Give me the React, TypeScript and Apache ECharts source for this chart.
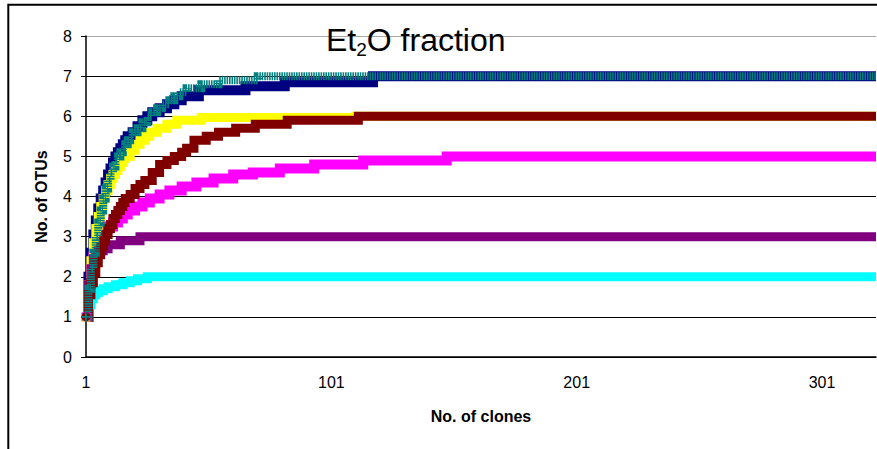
import React, { useEffect, useRef } from 'react';
import * as echarts from 'echarts';

const FONT = "'Liberation Sans', Arial, Helvetica, sans-serif";

// x categories: clone numbers
const clones: string[] = Array.from({ length: 323 }, (_, i) => String(i + 1));
const yTicks = [0, 1, 2, 3, 4, 5, 6, 7, 8];

// breakpoints [clone, No. of OTUs] (value holds until the next breakpoint)
const navy = [[1,1.0],[2,2.0],[3,2.6],[4,3.05],[5,3.4],[6,3.7],[7,3.95],[8,4.15],[9,4.35],[10,4.55],[11,4.7],[12,4.85],[13,5.0],[14,5.1],[15,5.2],[16,5.3],[17,5.4],[18,5.5],[20,5.6],[22,5.75],[24,5.9],[26,6.0],[28,6.1],[31,6.2],[34,6.3],[37,6.4],[40,6.5],[47,6.65],[66,6.75],[82,6.85],[118,7.0],[323,7.0]];
const magenta = [[1,1.0],[2,1.75],[3,2.2],[4,2.5],[5,2.7],[6,2.85],[7,3.0],[8,3.1],[9,3.2],[10,3.25],[12,3.35],[14,3.45],[16,3.55],[18,3.65],[21,3.75],[24,3.85],[27,3.95],[31,4.05],[35,4.15],[40,4.25],[46,4.35],[53,4.45],[61,4.55],[69,4.6],[80,4.7],[94,4.8],[114,4.9],[148,5.0],[323,5.0]];
const yellow = [[1,1.0],[2,1.8],[3,2.4],[4,2.85],[5,3.2],[6,3.5],[7,3.75],[8,3.95],[9,4.15],[10,4.3],[11,4.45],[12,4.55],[13,4.65],[14,4.75],[15,4.85],[16,4.95],[17,5.0],[19,5.15],[21,5.3],[23,5.4],[25,5.5],[27,5.6],[30,5.7],[34,5.8],[38,5.9],[48,5.97],[111,6.0],[323,6.0]];
const cyan = [[1,1.0],[2,1.3],[3,1.45],[4,1.55],[5,1.6],[6,1.65],[8,1.7],[10,1.75],[13,1.8],[16,1.85],[19,1.9],[22,1.95],[26,2.0],[323,2.0]];
const purple = [[1,1.0],[2,1.8],[3,2.2],[4,2.45],[5,2.55],[6,2.65],[8,2.7],[10,2.8],[15,2.9],[23,3.0],[323,3.0]];
const maroon = [[1,1.0],[2,1.55],[3,1.85],[4,2.1],[5,2.35],[6,2.55],[7,2.75],[8,2.9],[9,3.05],[10,3.2],[11,3.3],[12,3.45],[13,3.55],[14,3.65],[15,3.75],[16,3.85],[17,3.95],[19,4.05],[21,4.2],[23,4.3],[25,4.4],[28,4.6],[31,4.8],[34,4.9],[37,5.0],[40,5.1],[42,5.2],[45,5.4],[50,5.5],[55,5.6],[62,5.7],[70,5.8],[83,5.9],[112,6.0],[323,6.0]];
const teal = [[1,1.0],[2,1.7],[3,2.2],[4,2.6],[5,3.0],[6,3.35],[7,3.65],[8,3.95],[9,4.2],[10,4.4],[11,4.6],[12,4.75],[13,4.9],[14,5.0],[15,5.1],[16,5.2],[17,5.3],[18,5.4],[19,5.5],[20,5.6],[22,5.7],[24,5.85],[26,6.0],[28,6.1],[30,6.2],[32,6.3],[35,6.4],[37,6.5],[39,6.6],[42,6.7],[48,6.8],[55,6.9],[71,7.0],[323,7.0]];

const PLUS = 'path://M4,0H6V4H10V6H6V10H4V6H0V4H4Z';
const ASTER = 'path://M4,0H6V3.3L8.6,0.7L9.3,1.4L6.7,4H10V6H6.7L9.3,8.6L8.6,9.3L6,6.7V10H4V6.7L1.4,9.3L0.7,8.6L3.3,6H0V4H3.3L0.7,1.4L1.4,0.7L4,3.3Z';

function mk(name: string, data: number[][], color: string, symbol: string, symbolSize: number, lineWidth: number, dash?: number[]) {
  return {
    name,
    type: 'line',
    step: 'end',
    data: data.map(([c, v]) => [String(c), v]),
    symbol,
    symbolSize,
    showSymbol: true,
    itemStyle: { color },
    lineStyle: { color, width: lineWidth, type: dash ? dash : 'solid', join: 'miter' },
    emphasis: { disabled: true },
  };
}

const option = {
  animation: false,
  backgroundColor: '#ffffff',
  title: {
    text: '{a|Et}{s|2}{a|O fraction}',
    left: 326,
    top: 21,
    padding: 0,
    textStyle: {
      rich: {
        a: { fontSize: 32, fontFamily: FONT, fontWeight: 'normal', color: '#000', lineHeight: 38 },
        s: { fontSize: 19, fontFamily: FONT, fontWeight: 'normal', color: '#000', lineHeight: 13, verticalAlign: 'bottom' },
      },
    },
  },
  graphic: [
    {
      type: 'rect',
      z: -10,
      silent: true,
      shape: { x: 8.3, y: 4.8, width: 1000, height: 1000 },
      style: { fill: 'none', stroke: '#000', lineWidth: 2 },
    },
  ],
  grid: { left: 86, right: 1, top: 36, bottom: 92, containLabel: false },
  xAxis: {
    type: 'category',
    data: clones,
    boundaryGap: false,
    name: 'No. of clones',
    nameLocation: 'middle',
    nameGap: 51,
    nameTextStyle: { fontFamily: FONT, fontSize: 16, fontWeight: 'bold', color: '#000' },
    axisLine: { show: true, lineStyle: { color: '#000', width: 1.5 } },
    axisTick: { show: false },
    axisLabel: { interval: 99, fontFamily: FONT, fontSize: 16, color: '#000', margin: 17 },
    splitLine: { show: false },
  },
  yAxis: {
    type: 'value',
    min: 0,
    max: 8,
    interval: 1,
    name: 'No. of OTUs',
    nameLocation: 'middle',
    nameGap: 37,
    nameTextStyle: { fontFamily: FONT, fontSize: 16, fontWeight: 'bold', color: '#000' },
    axisLine: { show: true, lineStyle: { color: '#000', width: 1.5 } },
    axisTick: { show: true, inside: false, length: 5, lineStyle: { color: '#000' } },
    axisLabel: { fontFamily: FONT, fontSize: 16, color: '#000', margin: 14, formatter: (v: number) => (yTicks.includes(v) ? String(v) : '') },
    splitLine: { show: true, lineStyle: { color: ['#000', '#000', '#000', '#000', '#000', '#000', '#000', '#000', '#a8a8a8'], width: 1.2 } },
  },
  series: [
    mk('Series1', navy, '#000080', 'diamond', 8, 10),
    mk('Series2', magenta, '#FF00FF', 'rect', 9, 10),
    mk('Series3', yellow, '#FFFF00', 'triangle', 9, 9),
    mk('Series4', cyan, '#00FFFF', ASTER, 9, 9),
    mk('Series5', purple, '#800080', ASTER, 9, 9),
    mk('Series6', maroon, '#800000', 'circle', 9, 9),
    mk('Series7', teal, '#008080', PLUS, 9, 8, [1.6, 0.85]),
  ],
};

export default function App() {
  const ref = useRef<HTMLDivElement>(null);
  useEffect(() => {
    if (!ref.current) return;
    const chart = echarts.init(ref.current, null, { renderer: 'svg' });
    chart.setOption(option as any);
    return () => chart.dispose();
  }, []);
  return (
    <div
      ref={ref}
      style={{ position: 'fixed', left: 0, top: 0, width: 877, height: 449, background: '#fff' }}
    />
  );
}
